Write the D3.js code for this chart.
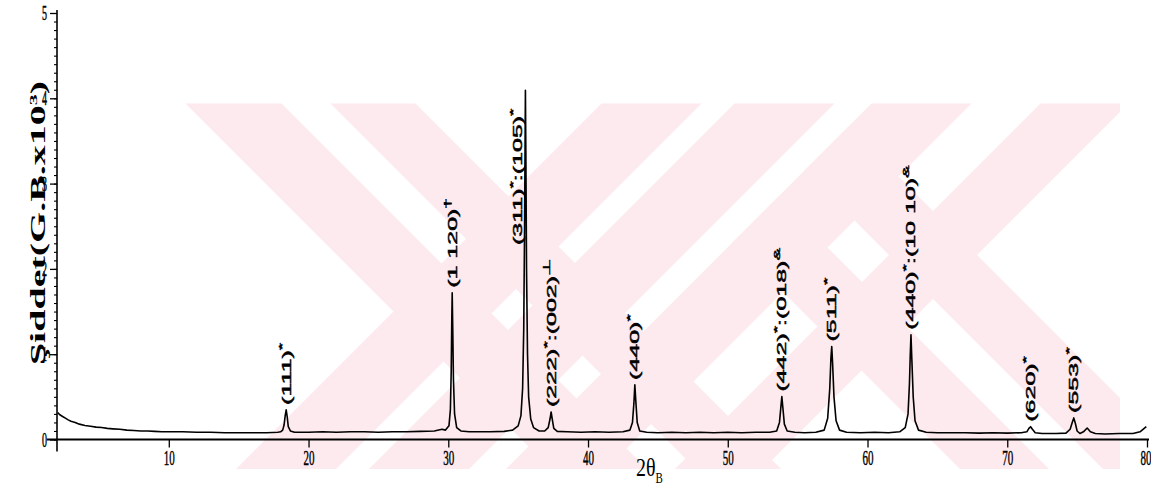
<!DOCTYPE html>
<html>
<head>
<meta charset="utf-8">
<script src="https://cdn.jsdelivr.net/npm/d3@7"></script>
<style>
  html, body { margin: 0; padding: 0; background: #fff; }
  svg { display: block; }
</style>
</head>
<body>
<svg id="chart" width="1151" height="499"></svg>
<script>
// X-ray diffraction scan: 2θ (degrees) against intensity (counts × 10^3)
const twoTheta = [
  2.05, 2.2, 2.4, 2.6, 2.8, 3.0, 3.3, 3.6, 4.0, 4.4, 4.8, 5.2, 5.6, 6.0, 6.5, 7.0, 7.5, 8.0, 8.5, 9.0,
  9.5, 10, 11, 12, 13, 14, 15, 16, 17, 17.8,
  18.0, 18.15, 18.25, 18.33, 18.4, 18.47, 18.55, 18.7, 19.0,
  20, 21, 22, 23, 24, 25, 26, 27, 28, 29, 29.55, 29.8,
  30.05, 30.15, 30.21, 30.25, 30.28, 30.32, 30.37, 30.45, 30.6, 30.9, 31.5,
  32, 33, 34, 34.6, 35.0, 35.2, 35.32, 35.4, 35.46, 35.5, 35.52, 35.55, 35.6, 35.67, 35.75, 35.9, 36.1, 36.5,
  36.9, 37.15, 37.28, 37.36, 37.44, 37.55, 37.8,
  38.5, 39.5, 40.5, 41.5, 42.5, 43.0, 43.18, 43.28, 43.35, 43.42, 43.52, 43.7, 44.2,
  45, 46, 47, 48, 49, 50, 51, 52, 53, 53.5, 53.7, 53.8, 53.87, 53.95, 54.05, 54.25, 54.8,
  55.5, 56.3, 56.9, 57.15, 57.3, 57.38, 57.44, 57.5, 57.6, 57.75, 58.0, 58.5,
  59.5, 60.5, 61.5, 62.3, 62.7, 62.9, 63.0, 63.06, 63.11, 63.17, 63.27, 63.4, 63.65, 64.2,
  65, 66, 67, 68, 69, 70, 71, 71.4, 71.55, 71.67, 71.8, 72.0, 72.5, 73.5,
  74.2, 74.5, 74.65, 74.76, 74.87, 75.0, 75.2, 75.45, 75.72, 75.95, 76.3,
  77, 78, 79, 79.5, 79.8, 79.95
];
const intensity = [
  0.315, 0.29, 0.27, 0.25, 0.23, 0.215, 0.20, 0.18, 0.165, 0.155, 0.145, 0.14, 0.13, 0.125, 0.12, 0.11, 0.105, 0.10, 0.10, 0.095,
  0.09, 0.09, 0.09, 0.085, 0.085, 0.08, 0.08, 0.08, 0.08, 0.085,
  0.09, 0.11, 0.17, 0.28, 0.347, 0.27, 0.15, 0.10, 0.085,
  0.085, 0.09, 0.085, 0.09, 0.09, 0.085, 0.09, 0.09, 0.095, 0.10, 0.12, 0.11,
  0.16, 0.35, 0.8, 1.4, 1.72, 1.3, 0.7, 0.3, 0.14, 0.10, 0.09,
  0.09, 0.09, 0.095, 0.11, 0.16, 0.28, 0.6, 1.3, 2.5, 3.6, 4.095, 3.4, 2.0, 1.0, 0.5, 0.24, 0.14, 0.10,
  0.10, 0.14, 0.24, 0.323, 0.24, 0.13, 0.095,
  0.09, 0.085, 0.09, 0.085, 0.09, 0.11, 0.2, 0.42, 0.64, 0.45, 0.2, 0.10, 0.085,
  0.08, 0.085, 0.08, 0.085, 0.08, 0.085, 0.08, 0.085, 0.085, 0.10, 0.2, 0.38, 0.503, 0.36, 0.18, 0.10, 0.085,
  0.08, 0.085, 0.11, 0.25, 0.6, 0.95, 1.09, 0.9, 0.5, 0.22, 0.11, 0.085,
  0.08, 0.085, 0.08, 0.09, 0.14, 0.3, 0.65, 1.0, 1.228, 0.95, 0.5, 0.22, 0.11, 0.085,
  0.08, 0.08, 0.08, 0.075, 0.08, 0.075, 0.08, 0.09, 0.13, 0.15, 0.12, 0.08, 0.07, 0.07,
  0.075, 0.12, 0.2, 0.253, 0.19, 0.10, 0.07, 0.09, 0.135, 0.09, 0.07,
  0.065, 0.07, 0.07, 0.09, 0.13, 0.15
];

// Indexed reflections: peak position and Miller-index text (odd entries are superscript marks)
const reflectionAt = [18.4, 30.28, 35.52, 37.36, 43.35, 53.87, 57.44, 63.11, 71.67, 74.76];
const reflectionText = [
  ["(111)", "*"],
  ["(1 120)", "†"],
  ["(311)", "*", ":(105)", "*"],
  ["(222)", "*", ":(002)", "⊥"],
  ["(440)", "*"],
  ["(442)", "*", ":(018)", "&"],
  ["(511)", "*"],
  ["(440)", "*", ":(10 10)", "&"],
  ["(620)", "*"],
  ["(553)", "*"]
];

const xTicks = [10, 20, 30, 40, 50, 60, 70, 80];
const yTicks = [0, 1, 2, 3, 4, 5];

// ---------------------------------------------------------------------------
const svg = d3.select("#chart");
const x = d3.scaleLinear().domain([2, 80]).range([57, 1147]);
const y = d3.scaleLinear().domain([0, 5]).range([439.5, 13]);

// Background watermark: crossed double stripes.
// "\" stripes satisfy x - y in [a, b]; "/" stripes satisfy x + y in [a, b].
// The optional "from" limits a "\" stripe to where x + y >= from.
const wm = { top: 103.5, bottom: 469, left: 150, right: 1120 };
const backStripes = [
  { a: 82, b: 178 }, { a: 227, b: 312 },
  { a: 491, b: 580, from: 975 }, { a: 634, b: 722, from: 975 }
];
const fwdStripes = [
  { a: 705, b: 805 }, { a: 838, b: 938 }, { a: 975, b: 1075 }, { a: 1144, b: 1232 }
];
svg.append("defs").append("clipPath").attr("id", "wmclip")
  .append("rect")
  .attr("x", wm.left).attr("y", wm.top)
  .attr("width", wm.right - wm.left).attr("height", wm.bottom - wm.top);
const wmg = svg.append("g").attr("clip-path", "url(#wmclip)").attr("fill", "#fdeaee");
const t0 = wm.top - 5, t1 = wm.bottom + 5;
const pts = arr => arr.map(p => p.join(",")).join(" ");
backStripes.forEach(({ a, b, from }) => {
  if (from === undefined) {
    wmg.append("polygon").attr("points", pts([[t0 + a, t0], [t0 + b, t0], [t1 + b, t1], [t1 + a, t1]]));
  } else {
    // start edge on the line x + y = from
    const ya = (from - a) / 2, yb = (from - b) / 2;
    wmg.append("polygon").attr("points", pts([[ya + a, ya], [yb + b, yb], [t1 + b, t1], [t1 + a, t1]]));
  }
});
fwdStripes.forEach(({ a, b }) => {
  wmg.append("polygon").attr("points", pts([[a - t0, t0], [b - t0, t0], [b - t1, t1], [a - t1, t1]]));
});

// Y-axis title (drawn early so the tick numbers stay on top of it)
const yTitle = svg.append("text")
  .attr("transform", "translate(45,223) scale(1,2) rotate(-90)")
  .attr("text-anchor", "middle")
  .attr("font-family", "'Liberation Serif', 'Times New Roman', serif")
  .attr("font-weight", "bold")
  .attr("font-size", 20)
  .attr("fill", "#000");
yTitle.append("tspan").text("Şiddet(G.B.x10");
yTitle.append("tspan").attr("dy", -8).attr("font-size", 11).text("3");
yTitle.append("tspan").attr("dy", 8).text(")");

// Axes
const xAxis = svg.append("g")
  .attr("transform", `translate(0,${y(0)})`)
  .call(d3.axisBottom(x).tickValues(xTicks).tickSize(8).tickSizeOuter(0).tickFormat(d3.format("d")));
xAxis.select(".domain").remove();
xAxis.selectAll(".tick line").attr("stroke", "#000").attr("stroke-width", 1.3);
xAxis.selectAll(".tick text")
  .attr("y", 0).attr("dy", 0)
  .attr("transform", "translate(0,25.5) scale(1,2)")
  .attr("font-family", "'Liberation Serif', 'Times New Roman', serif")
  .attr("font-size", 11).attr("fill", "#000")
  .attr("stroke", "#000").attr("stroke-width", 0.25);
// the last label sits against the right edge
xAxis.selectAll(".tick text").filter(d => d === 80)
  .attr("text-anchor", "end").attr("transform", "translate(4,25.5) scale(1,2)");

const yMinor = svg.append("g")
  .attr("transform", `translate(${x(2)},0)`)
  .call(d3.axisLeft(y).tickValues(d3.range(0, 50).map(i => i / 10)).tickSize(3).tickFormat(""));
yMinor.select(".domain").remove();
yMinor.selectAll(".tick line").attr("stroke", "#000").attr("stroke-width", 1.1);

const yAxis = svg.append("g")
  .attr("transform", `translate(${x(2)},0)`)
  .call(d3.axisLeft(y).tickValues(yTicks).tickSize(7).tickSizeOuter(0).tickFormat(d3.format("d")));
yAxis.select(".domain").remove();
yAxis.selectAll(".tick line").attr("stroke", "#000").attr("stroke-width", 1.3);
yAxis.selectAll(".tick text")
  .attr("x", 0).attr("dy", "0.33em")
  .attr("transform", "translate(-10,0) scale(1,2)")
  .attr("font-family", "'Liberation Serif', 'Times New Roman', serif")
  .attr("font-size", 10).attr("fill", "#000")
  .attr("stroke", "#000").attr("stroke-width", 0.25);

// axis lines (they cross slightly at the origin)
svg.append("line")
  .attr("x1", x(2) - 10).attr("x2", x(80) + 2)
  .attr("y1", y(0)).attr("y2", y(0))
  .attr("stroke", "#000").attr("stroke-width", 2.2);
svg.append("line")
  .attr("x1", x(2)).attr("x2", x(2))
  .attr("y1", y(5) - 3).attr("y2", y(0) + 12)
  .attr("stroke", "#000").attr("stroke-width", 1.6);

// Diffraction pattern
const scan = twoTheta.map((t, i) => [t, intensity[i]]);
svg.append("path")
  .datum(scan)
  .attr("fill", "none")
  .attr("stroke", "#000")
  .attr("stroke-width", 1.6)
  .attr("stroke-linejoin", "round")
  .attr("d", d3.line().x(d => x(d[0])).y(d => y(d[1])));

// Reflection labels, written upward above each peak
const labelFont = 12.5;
const supShift = 6;     // px the index marks are raised
const labelLift = { 2: { base: 2.28, dx: -8 } }; // (311) label sits beside its tall line
const peakHeight = t => {
  let best = 0, bd = Infinity;
  twoTheta.forEach((v, i) => { const d = Math.abs(v - t); if (d < bd) { bd = d; best = i; } });
  return intensity[best];
};
reflectionAt.forEach((t, i) => {
  const o = labelLift[i] || {};
  const base = o.base !== undefined ? y(o.base) : y(peakHeight(t)) - 5;
  const px = x(t) + (o.dx || 0) + 0.36 * labelFont;
  const txt = svg.append("text")
    .attr("transform", `translate(${px},${base}) scale(1,2) rotate(-90)`)
    .attr("font-family", "'Liberation Sans', Arial, sans-serif")
    .attr("font-size", labelFont)
    .attr("fill", "#000").attr("stroke", "#000").attr("stroke-width", 0.45);
  reflectionText[i].forEach((part, k) => {
    const sup = k % 2 === 1;
    txt.append("tspan")
      .attr("dy", sup ? -supShift : (k > 0 ? supShift : 0))
      .attr("font-size", sup ? 9.5 : labelFont)
      .text(part);
  });
});

// X-axis title
const xTitle = svg.append("text")
  .attr("transform", "translate(636,476) scale(1,1.3)")
  .attr("font-family", "'Liberation Serif', 'Times New Roman', serif")
  .attr("font-size", 20)
  .attr("fill", "#000");
xTitle.append("tspan").text("2θ");
xTitle.append("tspan").attr("dy", 5).attr("font-size", 11).text("B");
</script>
</body>
</html>
